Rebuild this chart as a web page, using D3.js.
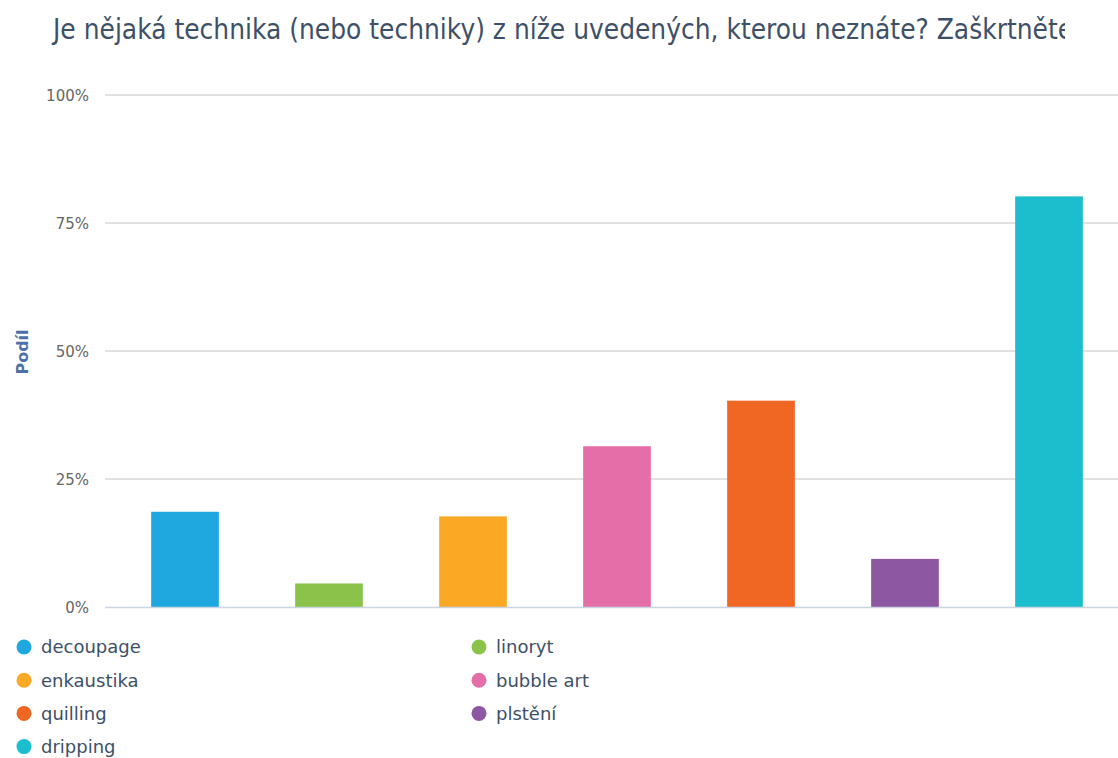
<!DOCTYPE html>
<html>
<head>
<meta charset="utf-8">
<script src="https://cdn.jsdelivr.net/npm/d3@7"></script>
<style>
  body { margin: 0; background: #fff; }
  text { font-family: "DejaVu Sans", sans-serif; }
</style>
</head>
<body>
<script>
// chart data
var categories = ["decoupage", "linoryt", "enkaustika", "bubble art", "quilling", "plstění", "dripping"];
var values = [18.6, 4.6, 17.7, 31.4, 40.3, 9.4, 80.2];
var colors = ["#1fa8e0", "#8bc34a", "#fba925", "#e56ea9", "#f06724", "#8e57a1", "#1cbdcc"];
var yTicks = [0, 25, 50, 75, 100];
var title = "Je nějaká technika (nebo techniky) z níže uvedených, kterou neznáte? Zaškrtněte";

var width = 1118, height = 758;

var svg = d3.select("body").append("svg")
    .attr("width", width)
    .attr("height", height);

// clip for the title, it is cut at the right in the original
svg.append("defs").append("clipPath")
    .attr("id", "titleClip")
  .append("rect")
    .attr("x", 0).attr("y", 0)
    .attr("width", 1065).attr("height", 60);

svg.append("g")
    .attr("clip-path", "url(#titleClip)")
  .append("text")
    .attr("transform", "translate(53,39) scale(1,1.1)")
    .style("font-size", "25px")
    .style("fill", "#3e5068")
    .text(title);

var x = d3.scaleBand()
    .domain(categories)
    .range([113, 1121])
    .paddingInner(0.53)
    .paddingOuter(0.265);

var y = d3.scaleLinear()
    .domain([0, 100])
    .range([607, 95]);

// gridlines
svg.selectAll(".grid")
    .data(yTicks.filter(function(d) { return d > 0; }))
    .enter().append("line")
    .attr("class", "grid")
    .attr("x1", 105).attr("x2", width)
    .attr("y1", function(d) { return y(d); })
    .attr("y2", function(d) { return y(d); })
    .style("stroke", "#c4c4c4")
    .style("stroke-width", 1);

// y labels
var yAxis = svg.append("g")
    .attr("transform", "translate(89,1)")
    .call(d3.axisLeft(y).tickValues(yTicks).tickSize(0).tickPadding(0)
        .tickFormat(function(d) { return d + "%"; }));
yAxis.select(".domain").remove();
yAxis.selectAll("text")
    .style("font-family", "DejaVu Sans, sans-serif")
    .style("font-size", "15px")
    .style("fill", "#666");

svg.append("text")
    .attr("transform", "translate(28,352) rotate(-90)")
    .attr("text-anchor", "middle")
    .style("font-size", "16px")
    .style("font-weight", "bold")
    .style("fill", "#4a72a8")
    .text("Podíl");

// bars
svg.selectAll(".bar")
    .data(categories)
    .enter().append("rect")
    .attr("class", "bar")
    .attr("x", function(d) { return x(d); })
    .attr("width", x.bandwidth())
    .attr("y", function(d, i) { return y(values[i]); })
    .attr("height", function(d, i) { return y(0) - y(values[i]); })
    .style("fill", function(d, i) { return colors[i]; });

// baseline
svg.append("line")
    .attr("x1", 105).attr("x2", width)
    .attr("y1", y(0) + 0.5).attr("y2", y(0) + 0.5)
    .style("stroke", "#c9d5e3")
    .style("stroke-width", 1.5);

// legend, two columns
var legend = svg.selectAll(".legend")
    .data(categories)
    .enter().append("g")
    .attr("class", "legend")
    .attr("transform", function(d, i) {
        var col = i % 2, row = Math.floor(i / 2);
        return "translate(" + (24 + col * 455) + "," + (647 + row * 33.2) + ")";
    });

legend.append("circle")
    .attr("r", 7.5)
    .style("fill", function(d, i) { return colors[i]; });

legend.append("text")
    .attr("x", 17)
    .attr("dy", "0.35em")
    .style("font-size", "18px")
    .style("fill", "#3e5068")
    .text(function(d) { return d; });
</script>
</body>
</html>
